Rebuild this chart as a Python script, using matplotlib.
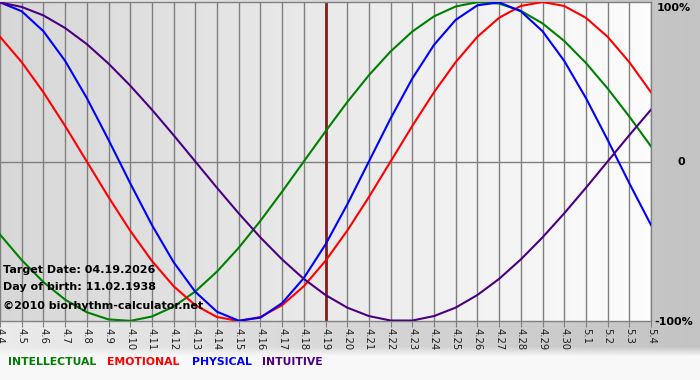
import numpy as np
import matplotlib
matplotlib.use("Agg")
import matplotlib.pyplot as plt

# ---- data ----
tick_labels = ["4.4", "4.5", "4.6", "4.7", "4.8", "4.9", "4.10", "4.11", "4.12", "4.13",
               "4.14", "4.15", "4.16", "4.17", "4.18", "4.19", "4.20", "4.21", "4.22", "4.23",
               "4.24", "4.25", "4.26", "4.27", "4.28", "4.29", "4.30", "5.1", "5.2", "5.3", "5.4"]

physical = [0.998, 0.942, 0.817, 0.631, 0.398, 0.136, -0.136, -0.398, -0.631, -0.817,
            -0.942, -0.998, -0.979, -0.888, -0.731, -0.520, -0.270, 0.0, 0.270, 0.520,
            0.731, 0.888, 0.979, 0.998, 0.942, 0.817, 0.631, 0.398, 0.136, -0.136, -0.398]

emotional = [0.782, 0.623, 0.434, 0.223, 0.0, -0.223, -0.434, -0.623, -0.782, -0.901,
             -0.975, -1.0, -0.975, -0.901, -0.782, -0.623, -0.434, -0.223, 0.0, 0.223,
             0.434, 0.623, 0.782, 0.901, 0.975, 1.0, 0.975, 0.901, 0.782, 0.623, 0.434]

intellectual = [-0.458, -0.618, -0.756, -0.866, -0.945, -0.990, -0.999, -0.972, -0.910, -0.815,
                -0.690, -0.541, -0.372, -0.189, 0.0, 0.189, 0.372, 0.541, 0.690, 0.815,
                0.910, 0.972, 0.999, 0.990, 0.945, 0.866, 0.756, 0.618, 0.458, 0.282, 0.095]

intuitive = [0.997, 0.969, 0.916, 0.837, 0.736, 0.614, 0.476, 0.325, 0.165, 0.0,
             -0.165, -0.325, -0.476, -0.614, -0.736, -0.837, -0.916, -0.969, -0.997, -0.997,
             -0.969, -0.916, -0.837, -0.736, -0.614, -0.476, -0.325, -0.165, 0.0, 0.165, 0.325]

target_label = "4.19"
info_lines = ["Target Date: 04.19.2026", "Day of birth: 11.02.1938", "\u00a92010 biorhythm-calculator.net"]
legend_names = ["INTELLECTUAL", "EMOTIONAL", "PHYSICAL", "INTUITIVE"]
y_labels = ["100%", "0", "-100%"]

colors = {"INTELLECTUAL": "#008000", "EMOTIONAL": "#ff0000",
          "PHYSICAL": "#0000ff", "INTUITIVE": "#4b0082"}

W, H = 700, 380
fig = plt.figure(figsize=(W / 100, H / 100), dpi=100)

# ---- figure background ----
bg = fig.add_axes([0, 0, 1, 1], zorder=0)
bg.set_axis_off()
gx = np.linspace(0, 1, 256)
img = np.zeros((380, 256, 3))
for r in range(380):
    base = 0.92 - 0.155 * gx
    if r < 346:
        v = base
    else:
        t = min(1.0, (r - 346) / 10)
        v = base * (1 - t) + 0.975 * t
    img[r] = np.stack([v, v, v], axis=1)
bg.imshow(img, extent=[0, 1, 0, 1], aspect="auto", origin="upper")
bg.set_xlim(0, 1)
bg.set_ylim(0, 1)

# ---- plot axes ----
left, right_px, top_px, bot_px = 0, 651, 2, 321
ax = fig.add_axes([left / W, 1 - bot_px / H, (right_px - left) / W, (bot_px - top_px) / H], zorder=1)
n = len(tick_labels)
x = np.arange(n)
ax.set_xlim(0, n - 1)
ax.set_ylim(-1.0, 1.0)

grad = np.linspace(0.845, 0.99, 256)
pimg = np.stack([grad, grad, grad], axis=1)[None, :, :]
ax.imshow(pimg, extent=[0, n - 1, -1, 1], aspect="auto", zorder=0)

for xi in x:
    ax.axvline(xi, color="#808080", lw=1.0, zorder=1)
ax.axhline(0, color="#808080", lw=1.0, zorder=1)
ax.axvline(tick_labels.index(target_label), color="#8b1a1a", lw=2.0, zorder=2)

ax.plot(x, intellectual, color=colors["INTELLECTUAL"], lw=1.5, zorder=3)
ax.plot(x, emotional, color=colors["EMOTIONAL"], lw=1.5, zorder=3)
ax.plot(x, physical, color=colors["PHYSICAL"], lw=1.5, zorder=3)
ax.plot(x, intuitive, color=colors["INTUITIVE"], lw=1.5, zorder=3)

ax.set_xticks(x)
ax.set_xticklabels(tick_labels, rotation=270, fontsize=7.2, color="#202020")
ax.tick_params(axis="x", length=4, color="#808080", pad=1)
ax.set_yticks([])
for s in ["top", "right", "bottom"]:
    ax.spines[s].set_color("#808080")
    ax.spines[s].set_linewidth(1.0)
ax.spines["left"].set_visible(False)

# info text
info_y = [0.160, 0.107, 0.047]
for line, yy in zip(info_lines, info_y):
    ax.text(0.004, yy, line, transform=ax.transAxes, fontsize=8,
            fontweight="bold", color="black", ha="left", va="center", zorder=5)

# right labels
fig.text(657 / W, 1 - 8 / H, y_labels[0], fontsize=8, fontweight="bold", ha="left", va="center")
fig.text(677 / W, 1 - 162 / H, y_labels[1], fontsize=8, fontweight="bold", ha="left", va="center")
fig.text(654 / W, 1 - 322 / H, y_labels[2], fontsize=8, fontweight="bold", ha="left", va="center")

# legend text
leg_x = [8, 107, 192, 262]
for name, lx in zip(legend_names, leg_x):
    fig.text(lx / W, 1 - 362 / H, name, fontsize=7.8, color=colors[name],
             ha="left", va="center", fontweight="semibold")

fig.savefig("out.png", dpi=100)
